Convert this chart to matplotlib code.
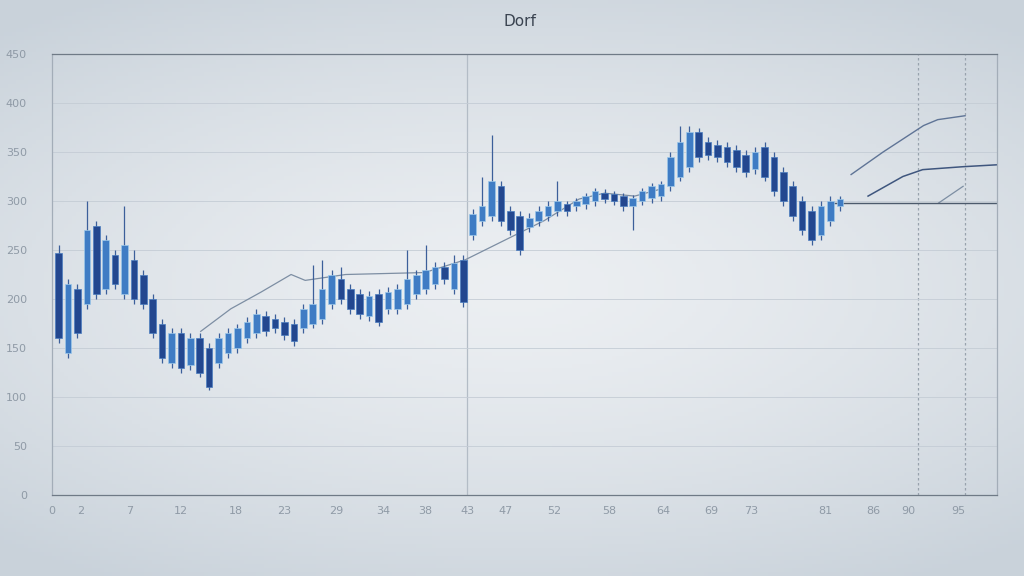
import numpy as np
import matplotlib
matplotlib.use("Agg")
import matplotlib.pyplot as plt

# candle data (price units)
opens = [247, 145, 210, 195, 275, 210, 245, 205, 240, 225, 200, 175, 135, 165, 133, 160, 150,
         135, 145, 150, 160, 165, 183, 180, 177, 175, 170, 175, 180, 195, 220, 210, 205, 183,
         205, 190, 190, 195, 205, 210, 215, 233, 210, 240, 265, 280, 285, 315, 290, 285, 273,
         280, 285, 290, 297, 295, 297, 300, 308, 307, 305, 295, 300, 303, 305, 315, 325, 335,
         370, 360, 357, 355, 352, 347, 333, 355, 345, 330, 315, 300, 290, 265, 280, 295]
closes = [160, 215, 165, 270, 205, 260, 215, 255, 200, 195, 165, 140, 165, 130, 160, 125, 110,
          160, 165, 170, 177, 185, 167, 170, 163, 157, 190, 195, 210, 225, 200, 190, 185, 203,
          177, 207, 210, 220, 225, 230, 233, 220, 237, 197, 287, 295, 320, 280, 270, 250, 283,
          290, 295, 300, 290, 300, 305, 310, 302, 300, 295, 303, 310, 315, 317, 345, 360, 370,
          345, 347, 345, 340, 335, 330, 350, 325, 310, 300, 285, 270, 260, 295, 300, 302]
highs = [255, 220, 215, 300, 280, 265, 250, 295, 250, 230, 205, 180, 170, 170, 165, 165, 155,
         165, 170, 175, 182, 190, 188, 185, 182, 180, 195, 235, 240, 230, 233, 215, 210, 208,
         210, 212, 215, 250, 230, 255, 238, 238, 245, 245, 292, 325, 367, 320, 295, 290, 288,
         295, 300, 320, 300, 303, 308, 313, 312, 310, 308, 306, 313, 318, 320, 350, 377, 377,
         375, 365, 362, 360, 357, 352, 355, 360, 350, 335, 320, 305, 295, 300, 305, 305]
lows = [155, 140, 160, 190, 200, 205, 210, 200, 195, 190, 160, 135, 130, 125, 128, 120, 107,
        130, 140, 145, 155, 160, 162, 165, 158, 152, 165, 170, 175, 190, 195, 185, 180, 178,
        172, 185, 185, 190, 200, 205, 210, 215, 205, 192, 260, 275, 280, 275, 265, 245, 268,
        275, 280, 285, 285, 290, 292, 295, 298, 296, 290, 270, 296, 298, 300, 310, 320, 330,
        340, 342, 340, 335, 330, 325, 328, 320, 305, 295, 280, 265, 255, 260, 275, 290]

# thin overlay lines
ma_x = [15.1, 18.3, 21.5, 24.7, 26.2, 30.5, 38.9, 43.2, 47.4, 51.6, 55.3, 58.0, 61.2, 64.3]
ma_y = [167, 190, 207, 225, 219, 225, 227, 240, 260, 280, 302, 308, 305, 313]
upper_x = [84.2, 87.6, 91.9, 93.4, 96.3]
upper_y = [327, 350, 377, 383, 387]
mid_x = [86.0, 89.7, 91.8, 96.1, 99.8]
mid_y = [305, 325, 332, 335, 337]
low_x = [93.5, 96.1]
low_y = [298, 315]
base_x = [82.3, 100]
base_y = [298, 298]

yticks = [0, 50, 100, 150, 200, 250, 300, 350, 400, 450]
xtick_pos = [-0.7, 2.3, 7.5, 13.0, 18.8, 24.0, 29.5, 34.5, 39.0, 43.4, 47.5, 52.7,
             58.5, 64.3, 69.4, 73.6, 81.5, 86.6, 90.3, 95.6]
xtick_lab = ["0", "2", "7", "12", "18", "23", "29", "34", "38", "43", "47", "52",
             "58", "64", "69", "73", "81", "86", "90", "95"]

fig = plt.figure(figsize=(10.24, 5.76), dpi=100)

# soft radial background
bg = fig.add_axes([0, 0, 1, 1], zorder=0)
gx, gy = np.meshgrid(np.linspace(-1, 1, 256), np.linspace(-1, 1, 144))
r = np.clip(np.sqrt((gx * 0.85) ** 2 + (gy * 1.1) ** 2), 0, 1.3)
c0 = np.array([0.925, 0.937, 0.950])
c1 = np.array([0.790, 0.825, 0.858])
img = c0[None, None, :] + (c1 - c0)[None, None, :] * (r[..., None] / 1.3) ** 1.4
bg.imshow(img, aspect="auto", extent=[0, 1, 0, 1])
bg.axis("off")

ax = fig.add_axes([52 / 1024, 81 / 576, 945 / 1024, 441 / 576], zorder=1)
ax.patch.set_alpha(0)

x = np.arange(len(opens))
up = np.array(closes) >= np.array(opens)
bottoms = np.minimum(opens, closes)
heights = np.abs(np.array(closes) - np.array(opens))
ax.vlines(x, lows, highs, color="#3c5f9a", lw=0.9, zorder=3)
ax.bar(x[up], heights[up], bottom=bottoms[up], width=0.7, color="#3f7cc4",
       edgecolor="#9cc8ea", lw=0.5, zorder=4)
ax.bar(x[~up], heights[~up], bottom=bottoms[~up], width=0.7, color="#23478f",
       edgecolor="#4a7dc0", lw=0.5, zorder=4)

ax.plot(ma_x, ma_y, color="#7d8ea3", lw=0.9, zorder=2)
ax.plot(upper_x, upper_y, color="#5f7496", lw=1.0, zorder=2)
ax.plot(mid_x, mid_y, color="#3f567e", lw=1.1, zorder=2)
ax.plot(low_x, low_y, color="#7d8ea3", lw=0.9, zorder=2)
ax.plot(base_x, base_y, color="#4c5a6c", lw=1.0, zorder=2)

ax.axvline(43.4, color="#b3bcc6", lw=0.9, zorder=1)
ax.axvline(91.3, color="#98a2ad", lw=0.9, ls=(0, (2, 2)), zorder=1)
ax.axvline(96.3, color="#98a2ad", lw=0.9, ls=(0, (2, 2)), zorder=1)

ax.set_xlim(-0.3, 99.7)
ax.set_ylim(0, 450)
ax.set_yticks(yticks)
ax.set_xticks(xtick_pos)
ax.set_xticklabels(xtick_lab)
ax.grid(axis="y", color="#c4ccd5", lw=0.6)
ax.tick_params(axis="both", colors="#8f9aa6", labelsize=8, length=0, pad=8)
ax.tick_params(axis="y", pad=18)
for side in ["left", "right", "bottom", "top"]:
    ax.spines[side].set_color("#a3adb8")
    ax.spines[side].set_linewidth(0.9)
ax.spines["top"].set_color("#6f7a86")
ax.spines["bottom"].set_color("#6f7a86")

fig.text(0.508, 0.962, "Dorf", ha="center", va="center", fontsize=11, color="#3a4350")

fig.savefig("out.png", dpi=100)
